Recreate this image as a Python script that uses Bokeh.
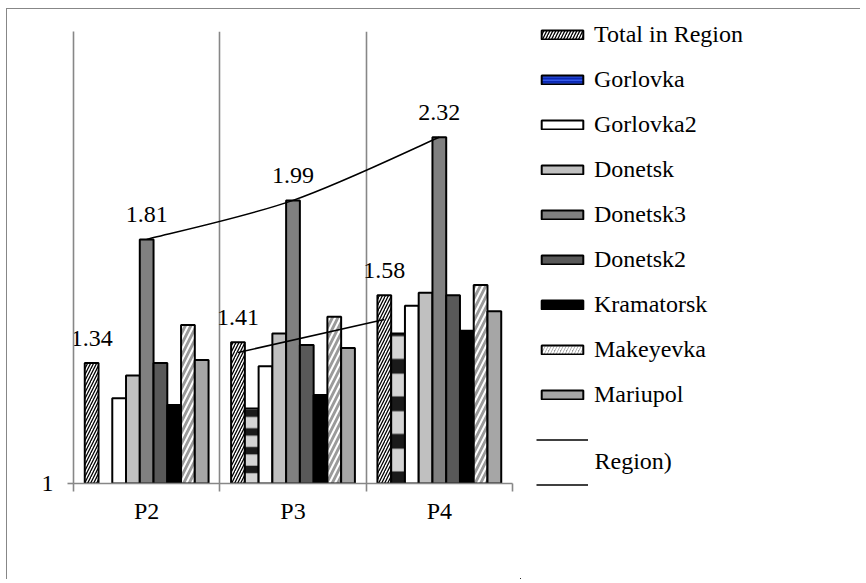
import numpy as np
from bokeh.plotting import figure
from bokeh.layouts import row
from bokeh.models import Range1d, FixedTicker, Legend, LegendItem, Label, ColumnDataSource
from bokeh.embed import file_html
from bokeh.resources import INLINE
from bokeh.core.properties import value

# ---------------- data ----------------
periods = ["P2", "P3", "P4"]
series_names = ["Total in Region", "Gorlovka", "Gorlovka2", "Donetsk", "Donetsk3",
                "Donetsk2", "Kramatorsk", "Makeyevka", "Mariupol"]
total_in_region = [1.34, 1.41, 1.58]
gorlovka = [None, 1.20, 1.44]
gorlovka2 = [1.23, 1.33, 1.54]
donetsk = [1.30, 1.44, 1.59]
donetsk3 = [1.81, 1.99, 2.32]
donetsk2 = [1.34, 1.40, 1.58]
kramatorsk = [1.21, 1.24, 1.45]
makeyevka = [1.47, 1.50, 1.62]
mariupol = [1.35, 1.39, 1.52]
trend_total_periods = ["P3", "P4"]
trend_total = [1.375, 1.49]
region_label = "Region)"
y_ticks = [1]

all_series = [total_in_region, gorlovka, gorlovka2, donetsk, donetsk3,
              donetsk2, kramatorsk, makeyevka, mariupol]

FONT = "Liberation Serif, Times New Roman, serif"
FS = "24px"
GRAY = "#878787"
BW = 0.094  # bar width in category units
FRAME_H = 452

styles = [
    dict(fill_color="white", hatch_pattern="/", hatch_color="black", hatch_scale=6, hatch_weight=1.3),
    dict(fill_color="#d4d4d4", hatch_pattern="-", hatch_color="#1a1a1a"),
    dict(fill_color="white"),
    dict(fill_color="#c0c0c0"),
    dict(fill_color="#808080"),
    dict(fill_color="#595959"),
    dict(fill_color="#000000"),
    dict(fill_color="#9a9a9a", hatch_pattern="/", hatch_color="white", hatch_scale=11, hatch_weight=2),
    dict(fill_color="#a6a6a6"),
]
legend_styles = list(styles)
legend_styles[1] = dict(fill_color="#0a28b4", hatch_pattern="-", hatch_color="#4a70ff",
                        hatch_scale=3.5, hatch_weight=1)
legend_styles[7] = dict(fill_color="#9a9a9a", hatch_pattern="/", hatch_color="white",
                        hatch_scale=6, hatch_weight=2)

H = 570
p = figure(width=513, height=H, x_range=Range1d(0, 3), y_range=Range1d(1, 3),
           y_axis_type="log", output_backend="svg", toolbar_location=None,
           min_border_left=66, min_border_right=8, min_border_top=22, min_border_bottom=96)
p.outline_line_color = None
p.ygrid.visible = False
p.xgrid.ticker = FixedTicker(ticks=[0, 1, 2, 3])
p.xgrid.grid_line_color = GRAY
p.xgrid.grid_line_width = 1.6

def xpos(period, si):
    return periods.index(period) + 0.5 + (si - 4) * BW

px_per_log = FRAME_H / np.log(3.0)
for si, (name, vals) in enumerate(zip(series_names, all_series)):
    xs = [xpos(pp, si) for pp, v in zip(periods, vals) if v is not None]
    ys = [v for v in vals if v is not None]
    data = dict(x=xs, top=ys)
    st = dict(styles[si])
    if si == 1:
        # banded pattern: about four bands per bar, like the reference
        data["hs"] = [float(px_per_log * np.log(v) / 4) for v in ys]
        data["hw"] = [h * 0.4 for h in data["hs"]]
        st["hatch_scale"] = "hs"
        st["hatch_weight"] = "hw"
    src = ColumnDataSource(data)
    p.vbar(x="x", top="top", bottom=1, width=BW, source=src,
           line_color="black", line_width=2, **st)

# smoothed line through Donetsk3 values (category centres)
cx = [periods.index(pp) + 0.5 for pp in periods]
ly = np.log(donetsk3)
n = len(cx)
x0s, y0s, x1s, y1s, c0x, c0y, c1x, c1y = [], [], [], [], [], [], [], []
for k in range(n - 1):
    km, kp2 = max(k - 1, 0), min(k + 2, n - 1)
    x0s.append(cx[k]); y0s.append(donetsk3[k])
    x1s.append(cx[k + 1]); y1s.append(donetsk3[k + 1])
    c0x.append(cx[k] + (cx[k + 1] - cx[km]) / 6)
    c0y.append(float(np.exp(ly[k] + (ly[k + 1] - ly[km]) / 6)))
    c1x.append(cx[k + 1] - (cx[kp2] - cx[k]) / 6)
    c1y.append(float(np.exp(ly[k + 1] - (ly[kp2] - ly[k]) / 6)))
p.bezier(x0=x0s, y0=y0s, x1=x1s, y1=y1s, cx0=c0x, cy0=c0y, cx1=c1x, cy1=c1y,
         line_color="black", line_width=1.5)

# straight line near Total in Region bars
p.line(x=[xpos(pp, 0) for pp in trend_total_periods], y=trend_total,
       line_color="black", line_width=1.5)

# data labels
lab_x = [xpos(pp, 0) for pp in periods] + [xpos(pp, 4) for pp in periods]
lab_y = total_in_region + donetsk3
lab_t = ["%.2f" % v for v in lab_y]
p.text(x=lab_x, y=lab_y, text=lab_t, y_offset=-25, text_align="center",
       text_baseline="middle", text_font=value(FONT), text_font_size=FS, text_color="black")

# axes
xa = p.xaxis[0]
xa.ticker = FixedTicker(ticks=[0.5, 1.5, 2.5], minor_ticks=[0, 1, 2, 3])
xa.major_label_overrides = {0.5: "P2", 1.5: "P3", 2.5: "P4"}
xa.major_tick_line_color = None
xa.major_tick_out = 0
xa.major_tick_in = 0
xa.minor_tick_out = 8
xa.minor_tick_in = 0
xa.minor_tick_line_color = GRAY
xa.minor_tick_line_width = 1.6
xa.axis_line_color = GRAY
xa.axis_line_width = 1.6
xa.major_label_standoff = 6
xa.major_label_text_font = FONT
xa.major_label_text_font_size = FS
xa.major_label_text_color = "black"

ya = p.yaxis[0]
ya.ticker = FixedTicker(ticks=y_ticks, minor_ticks=[])
ya.major_label_overrides = {1: "1"}
ya.major_tick_out = 6
ya.major_tick_in = 0
ya.major_tick_line_color = GRAY
ya.major_tick_line_width = 1.6
ya.minor_tick_line_color = None
ya.axis_line_color = GRAY
ya.axis_line_width = 1.6
ya.major_label_standoff = 14
ya.major_label_text_font = FONT
ya.major_label_text_font_size = FS
ya.major_label_text_color = "black"

# ---------------- legend figure ----------------
pl = figure(width=340, height=H, x_range=Range1d(0, 1), y_range=Range1d(0, 1),
            output_backend="svg", toolbar_location=None,
            x_axis_location=None, y_axis_location=None,
            min_border_left=0, min_border_right=0, min_border_top=0, min_border_bottom=0)
pl.frame_align = False
pl.outline_line_color = None
pl.grid.visible = False

items = []
for si, name in enumerate(series_names):
    rr = pl.vbar(x=[-5], top=[-4], bottom=-5, width=0.1, line_color="black", line_width=2,
                 **legend_styles[si])
    items.append(LegendItem(label=name, renderers=[rr]))
for _ in range(2):
    lr = pl.line(x=[-5, -4], y=[-5, -5], line_color="black", line_width=1.5)
    items.append(LegendItem(label=" ", renderers=[lr]))

legend = Legend(items=items, location=(16, 80), padding=0, margin=0, spacing=15,
                label_height=30, glyph_height=11, glyph_width=52, label_standoff=6,
                border_line_color=None, background_fill_alpha=0,
                label_text_font=FONT, label_text_font_size=FS, label_text_color="black")
pl.add_layout(legend, "center")

pl.add_layout(Label(x=74, y=119, x_units="screen", y_units="screen", text=region_label,
                    text_font=FONT, text_font_size=FS, text_color="black",
                    text_baseline="middle", text_align="left"))

layout = row(p, pl)
layout.styles = {"margin-left": "6px", "margin-top": "8px",
                 "border-top": "1px solid #878787", "border-left": "1px solid #878787"}

open("out.html", "w").write(file_html(layout, INLINE))
